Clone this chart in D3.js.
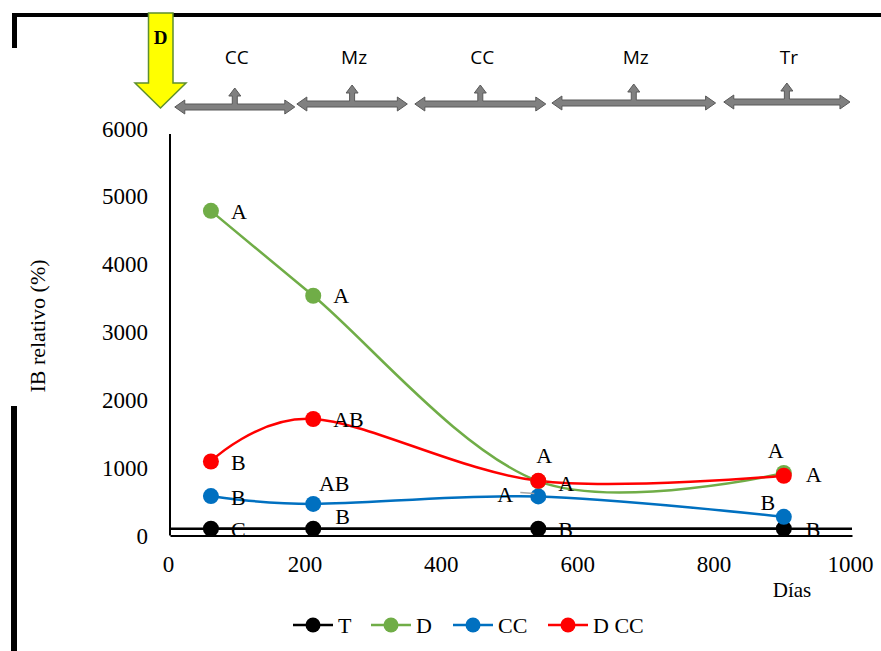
<!DOCTYPE html>
<html><head><meta charset="utf-8">
<script src="https://cdn.jsdelivr.net/npm/d3@7"></script>
<style>body{margin:0;background:#fff}svg{display:block}</style>
</head><body><svg id="c" width="881" height="651"></svg>
<script>
// ---- data ----
const days = [60, 210, 540, 900];
const seriesNames = ["T", "D", "CC", "D CC"];
const valuesT = [100, 100, 100, 100];
const valuesD = [4780, 3530, 800, 920];
const valuesCC = [580, 465, 575, 275];
const valuesDCC = [1090, 1715, 805, 880];
const lettersT = ["C", "B", "B", "B"];
const lettersD = ["A", "A", "A", "A"];
const lettersCC = ["B", "AB", "A", "B"];
const lettersDCC = ["B", "AB", "A", "A"];
const xTicks = [0, 200, 400, 600, 800, 1000];
const yTicks = [0, 1000, 2000, 3000, 4000, 5000, 6000];
const referenceLevel = 100;
const phaseLabels = ["CC", "Mz", "CC", "Mz", "Tr"];
const phaseStart = [7, 186, 359, 560, 812];
const phaseEnd = [183, 348, 551, 800, 997];
const xTitle = "Días";
const yTitle = "IB relativo (%)";
const applicationLabel = "D";

// ---- layout / style ----
const colors = {"T": "#000000", "D": "#70AD47", "CC": "#0070C0", "D CC": "#FF0000"};
const serif = "'Liberation Serif', 'Times New Roman', serif";
const sans = "'Open Sans', 'Liberation Sans', sans-serif";
const labelOffsets = {
  "T":    [[20, 1, "start"], [22, -12, "start"], [20, 1, "start"], [22, 1, "start"]],
  "D":    [[20, 0, "start"], [20, 0, "start"], [6, -26, "middle"], [-8, -23, "middle"]],
  "CC":   [[20, 1, "start"], [21, -21, "middle"], [-33, -2, "middle"], [-16, -15, "middle"]],
  "D CC": [[20, 1, "start"], [20, 0, "start"], [20, 2, "start"], [22, -1, "start"]]
};

const svg = d3.select("#c");
svg.append("rect").attr("width", 881).attr("height", 651).attr("fill", "#fff");

const x = d3.scaleLinear().domain([0, 1000]).range([170, 852]);
const y = d3.scaleLinear().domain([0, 6000]).range([535.5, 128]);

// frame decorations
svg.append("rect").attr("x", 12).attr("y", 13).attr("width", 869).attr("height", 4).attr("fill", "#000");
svg.append("rect").attr("x", 12).attr("y", 13).attr("width", 5).attr("height", 35).attr("fill", "#000");
svg.append("rect").attr("x", 11).attr("y", 406).attr("width", 6).attr("height", 245).attr("fill", "#000");

// yellow application arrow
const ya = svg.append("g");
ya.append("path")
  .attr("d", "M148.5,13 L173,13 L173,83 L186,83 L160.5,108 L135,83 L148.5,83 Z")
  .attr("fill", "#FFFF00").attr("stroke", "#5E8F2E").attr("stroke-width", 1.5);
ya.append("text").attr("x", 160.5).attr("y", 44).attr("text-anchor", "middle")
  .style("font-family", serif).style("font-weight", "bold").style("font-size", "19px").text(applicationLabel);

// phase arrows
const arrowY = [107, 104, 104, 103, 102];
function phaseArrow(x0, x1, cy) {
  const sh = 3, hh = 7, hl = 10, cx = (x0 + x1) / 2, sw = 2.5, stubTop = cy - 11, headTop = cy - 19, hw = 6;
  return `M${x0},${cy} L${x0 + hl},${cy - hh} L${x0 + hl},${cy - sh} L${cx - sw},${cy - sh} L${cx - sw},${stubTop}` +
    ` L${cx - hw},${stubTop} L${cx},${headTop} L${cx + hw},${stubTop} L${cx + sw},${stubTop} L${cx + sw},${cy - sh}` +
    ` L${x1 - hl},${cy - sh} L${x1 - hl},${cy - hh} L${x1},${cy} L${x1 - hl},${cy + hh} L${x1 - hl},${cy + sh}` +
    ` L${x0 + hl},${cy + sh} L${x0 + hl},${cy + hh} Z`;
}
phaseLabels.forEach((lab, i) => {
  const x0 = x(phaseStart[i]), x1 = x(phaseEnd[i]);
  svg.append("path").attr("d", phaseArrow(x0, x1, arrowY[i]))
    .attr("fill", "#808080").attr("stroke", "#595959").attr("stroke-width", 1);
  svg.append("text").attr("x", (x0 + x1) / 2 + 2).attr("y", 64).attr("text-anchor", "middle")
    .style("font-family", sans).style("font-size", "19px").attr("fill", "#000").text(lab);
});

// axes
const xAxis = svg.append("g").attr("transform", `translate(0,${y(0)})`)
  .call(d3.axisBottom(x).tickValues(xTicks).tickFormat(d3.format("d")).tickSize(0).tickPadding(20));
xAxis.select(".domain").attr("stroke", "#000").attr("stroke-width", 2);
xAxis.selectAll("text").style("font-family", serif).style("font-size", "23px").attr("fill", "#000").attr("dx", -2);

const yAxis = svg.append("g").attr("transform", `translate(${x(0)},0)`)
  .call(d3.axisLeft(y).tickValues(yTicks).tickFormat(d3.format("d")).tickSize(0).tickPadding(22));
yAxis.select(".domain").attr("stroke", "#000").attr("stroke-width", 2).attr("d", `M0,${y(6000) + 6}V${y(0)}`);
yAxis.selectAll("text").style("font-family", serif).style("font-size", "23px").attr("fill", "#000").attr("dy", "0.35em");

svg.append("text").attr("x", 792).attr("y", 597).attr("text-anchor", "middle")
  .style("font-family", serif).style("font-size", "21px").text(xTitle);
svg.append("text").attr("transform", `translate(45,326) rotate(-90)`).attr("text-anchor", "middle")
  .style("font-family", serif).style("font-size", "22px").text(yTitle);

// reference line
svg.append("line").attr("x1", x(0)).attr("x2", x(1000)).attr("y1", y(referenceLevel)).attr("y2", y(referenceLevel))
  .attr("stroke", "#000").attr("stroke-width", 2.5);

// series
const seriesValues = {"T": valuesT, "D": valuesD, "CC": valuesCC, "D CC": valuesDCC};
const seriesLetters = {"T": lettersT, "D": lettersD, "CC": lettersCC, "D CC": lettersDCC};
const line = d3.line().x(d => x(d[0])).y(d => y(d[1])).curve(d3.curveCardinal.tension(0));
const drawOrder = ["T", "D", "CC", "D CC"];
drawOrder.forEach(name => {
  const pts = days.map((d, i) => [d, seriesValues[name][i]]);
  svg.append("path").attr("d", line(pts)).attr("fill", "none")
    .attr("stroke", colors[name]).attr("stroke-width", 2.5);
});
drawOrder.forEach(name => {
  const pts = days.map((d, i) => [d, seriesValues[name][i]]);
  svg.append("g").selectAll("circle").data(pts).join("circle")
    .attr("cx", d => x(d[0])).attr("cy", d => y(d[1])).attr("r", 8).attr("fill", colors[name]);
});
svg.append("line").attr("x1", x(days[2]) - 18).attr("x2", x(days[2]) - 4)
  .attr("y1", y(valuesCC[2]) - 4).attr("y2", y(valuesCC[2]) - 3).attr("stroke", "#A6A6A6").attr("stroke-width", 1.5);
drawOrder.forEach(name => {
  days.forEach((d, i) => {
    const o = labelOffsets[name][i];
    svg.append("text").attr("x", x(d) + o[0]).attr("y", y(seriesValues[name][i]) + o[1])
      .attr("dy", "0.35em").attr("text-anchor", o[2])
      .style("font-family", serif).style("font-size", "22px").attr("fill", "#000")
      .text(seriesLetters[name][i]);
  });
});

// legend
const legendX = [293, 371, 453, 548];
const legendY = 625;
seriesNames.forEach((name, i) => {
  const g = svg.append("g").attr("transform", `translate(${legendX[i]},${legendY})`);
  g.append("line").attr("x1", 0).attr("x2", 40).attr("stroke", colors[name]).attr("stroke-width", 2.5);
  g.append("circle").attr("cx", 20).attr("r", 7.5).attr("fill", colors[name]);
  g.append("text").attr("x", 45).attr("dy", "0.35em").style("font-family", serif).style("font-size", "22px").text(name);
});
</script></body></html>
